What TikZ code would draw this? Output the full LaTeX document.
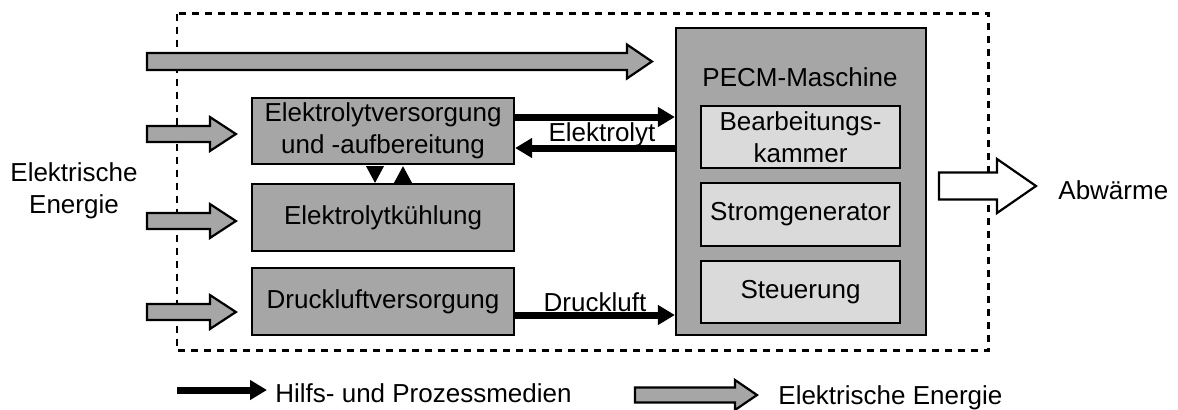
\documentclass[tikz,border=0pt]{standalone}
\usepackage{fontspec}
\setmainfont{Liberation Sans}
\usetikzlibrary{calc,arrows.meta}

\definecolor{boxgray}{HTML}{A6A6A6}
\definecolor{lightgray}{HTML}{DADADA}

% Block arrow: #1 style, #2 tail, #3 tip, #4 half body height, #5 half head height, #6 head length
\newcommand\blkarrow[6]{%
  \path #2 coordinate (ba-t) #3 coordinate (ba-h);
  \draw[#1] let \p1=(ba-t), \p2=(ba-h) in
    (\x1,\y1+#4) -- (\x2-#6,\y1+#4) -- (\x2-#6,\y1+#5) -- (\x2,\y1)
    -- (\x2-#6,\y1-#5) -- (\x2-#6,\y1-#4) -- (\x1,\y1-#4) -- cycle;}

\tikzset{
  unit/.style={draw=black, line width=1.1pt, fill=boxgray, align=center,
    inner sep=0pt},
  inner/.style={draw=black, line width=1.1pt, fill=lightgray, align=center,
    inner sep=0pt, minimum width=99.5pt},
  label/.style={inner sep=0pt, align=center},
  medium/.style={line width=3.5pt, -{Triangle[length=8.5pt,width=9.5pt]}},
  energy/.style={draw=black, line width=1.1pt, fill=boxgray},
  heat/.style={draw=black, line width=1.1pt, fill=white},
  frame/.style={draw=black, line width=1.1pt, dash pattern=on 3.5pt off 3pt},
}

\begin{document}
\begin{tikzpicture}[x=0.5pt, y=-0.5pt,
  every node/.style={font=\fontsize{13}{16}\selectfont}]
\useasboundingbox (0,0) rectangle (1178,409);

% system boundary
\draw[frame] (177,13.5) rectangle (988.5,350.5);

% supply units
\node[unit, minimum width=131pt, minimum height=33pt] (e1) at (383,131)
  {Elektrolytversorgung\\und -aufbereitung};
\node[unit, minimum width=131pt, minimum height=33.5pt] (e2) at (383,217.5)
  {Elektrolytkühlung};
\node[unit, minimum width=131pt, minimum height=33.5pt] (e3) at (383,301.5)
  {Druckluftversorgung};

% machine with its components
\node[unit, minimum width=125pt, minimum height=153.5pt] (pecm) at (801,181.5) {};
\node[label] (pecmlbl) at (800,77) {PECM-Maschine};
\node[inner, minimum height=31pt] (kam) at (800.5,137) {Bearbeitungs-\\kammer};
\node[inner, minimum height=31.5pt] (gen) at (800.5,214.5) {Stromgenerator};
\node[inner, minimum height=31pt] (ctl) at (800.5,292) {Steuerung};

% outer labels
\node[label] (elin) at (74,191) {Elektrische\\Energie};
\node[label, anchor=west] (waerme) at (1058,190) {Abwärme};

% free ends of the energy inputs
\coordinate (in0) at (147,61.5);
\coordinate (in1) at (147,134);
\coordinate (in2) at (147,221);
\coordinate (in3) at (147,312);
\coordinate (out0) at (939,186);

% electrical energy inputs
\blkarrow{energy}{(in0)}{([xshift=-11.5pt]in0 -| pecm.west)}{4.25pt}{8.5pt}{12.5pt}
\blkarrow{energy}{(in1)}{([xshift=-7.5pt]in1 -| e1.west)}{4pt}{8.5pt}{13pt}
\blkarrow{energy}{(in2)}{([xshift=-7.5pt]in2 -| e2.west)}{4pt}{8.5pt}{13pt}
\blkarrow{energy}{(in3)}{([xshift=-7.5pt]in3 -| e3.west)}{4pt}{8.5pt}{13pt}

% waste heat
\blkarrow{heat}{(out0)}{([xshift=-11pt]out0 -| waerme.west)}{6.75pt}{13.5pt}{19.5pt}

% electrolyte circuit
\draw[medium] ([yshift=7pt]e1.east) -- ([yshift=7pt]e1.east -| pecm.west);
\draw[medium] ([yshift=-8.5pt]e1.east -| pecm.west) -- ([yshift=-8.5pt]e1.east);
\node[label] (elyt) at (602,135) {Elektrolyt};

% electrolyte cooling loop
\fill ([xshift=-8.5pt,yshift=-0.5pt]e1.south) -- ([xshift=0.5pt,yshift=-0.5pt]e1.south)
  -- ([xshift=-4pt]e1.south |- e2.north) -- cycle;
\fill ([xshift=5.5pt]e1.south |- e2.north) -- ([xshift=14.5pt]e1.south |- e2.north)
  -- ([xshift=10pt,yshift=-0.5pt]e1.south) -- cycle;

% compressed air
\draw[medium] ([yshift=-6.75pt]e3.east) -- ([yshift=-6.75pt]e3.east -| pecm.west);
\node[label] (luft) at (595,302) {Druckluft};

% legend
\coordinate (lg1) at (177,390);
\coordinate (lg1e) at (267,390);
\draw[medium] (lg1) -- (lg1e);
\node[label, anchor=west] (lgtxt1) at (275,393) {Hilfs- und Prozessmedien};
\coordinate (lg2) at (635,395);
\coordinate (lg2e) at (757,395);
\blkarrow{energy}{(lg2)}{(lg2e)}{3.75pt}{7.5pt}{11pt}
\node[label, anchor=west] (lgtxt2) at (778,398) {Elektrische Energie};
\end{tikzpicture}
\end{document}
